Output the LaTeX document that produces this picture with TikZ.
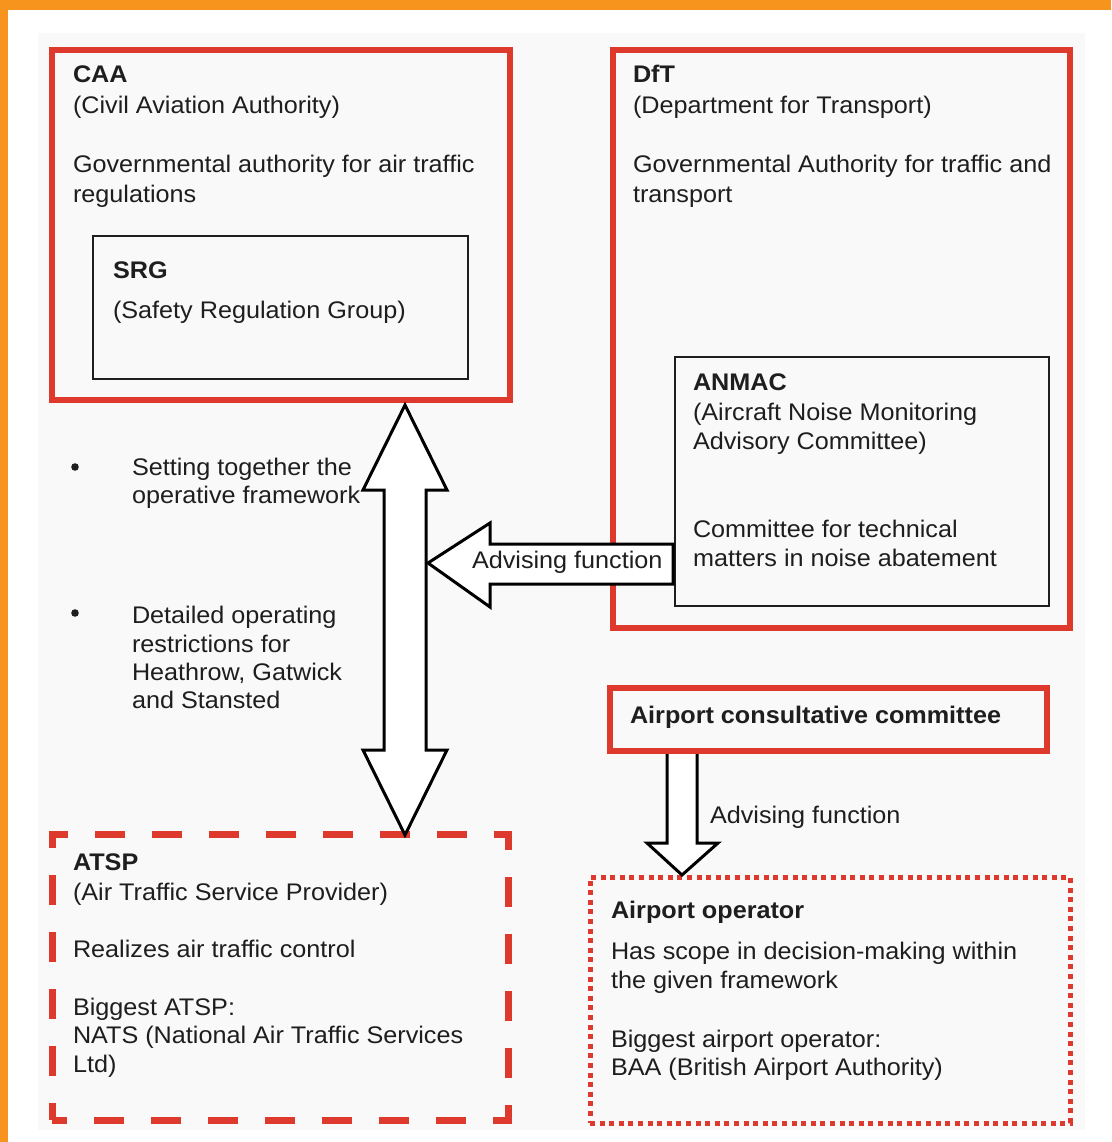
\documentclass[tikz,border=0pt]{standalone}
\usepackage{fontspec}
\setmainfont{Liberation Sans}[FakeStretch=1.05]
\definecolor{orng}{RGB}{247,148,29}
\definecolor{redl}{RGB}{221,57,45}
\definecolor{txtc}{RGB}{30,30,30}
\definecolor{bgc}{RGB}{249,249,249}
\begin{document}
\begin{tikzpicture}[x=1pt,y=-1pt,
  txt/.style={anchor=base west, inner sep=0pt, outer sep=0pt, text=txtc, font=\fontsize{24}{29}\selectfont},
  btxt/.style={txt, font=\fontsize{24}{29}\selectfont\bfseries},
  bx/.style={draw, inner sep=0pt, outer sep=0pt},
  redbox/.style={bx, draw=redl, line width=6pt},
  blackbox/.style={bx, draw=txtc, line width=2pt},
  dashbox/.style={bx, draw=redl, line width=7pt, dash pattern=on 30pt off 27pt, dash phase=15pt},
  dotbox/.style={bx, draw=redl, line width=5pt, dash pattern=on 5pt off 4.6pt},
  blockarrow/.style={draw=black, fill=white, line width=3pt, line join=miter},
]
\useasboundingbox (0,0) rectangle (1111,1142);
\fill[white] (0,0) rectangle (1111,1142);
\fill[bgc] (38,33) rectangle (1085,1130);
\fill[orng] (0,0) rectangle (1111,10);
\fill[orng] (0,0) rectangle (8,1142);

% boxes
\node[redbox, minimum width=458.5pt, minimum height=350pt] (caa) at (280.75,225) {};
\node[blackbox, minimum width=375pt, minimum height=143pt] (srg) at (280.5,307.5) {};
\node[redbox, minimum width=457.5pt, minimum height=578pt] (dft) at (841.25,339) {};
\node[blackbox, minimum width=374pt, minimum height=249pt] (anmac) at (862,481.5) {};
\node[dashbox, minimum width=456pt, minimum height=286pt] (atsp) at (280,977) {};
\node[dotbox, minimum width=480pt, minimum height=246pt] (aop) at (830,1000) {};

% double arrow CAA <-> ATSP
\draw[blockarrow] (405,405) -- (447,490) -- (426,490) -- (426,750) -- (447,750)
  -- (405,835) -- (363,750) -- (384,750) -- (384,490) -- (363,490) -- cycle;
% advising arrow ANMAC -> double arrow
\draw[blockarrow] (428,563) -- (490,523) -- (490,544) -- (673,544) -- (673,584)
  -- (490,584) -- (490,607) -- cycle;
% down arrow ACC -> airport operator
\draw[blockarrow] (667,751) -- (667,843) -- (647,843) -- (682,875) -- (718,843)
  -- (697,843) -- (697,751) -- cycle;

\node[redbox, fill=bgc, minimum width=437pt, minimum height=63pt] (acc) at (828.5,719.5) {};

% CAA
\node[btxt] (caaT1) at (73,83) {CAA};
\node[txt] (caaT2) at (73,114) {(Civil Aviation Authority)};
\node[txt] (caaT3) at (73,173) {Governmental authority for air traffic};
\node[txt] (caaT4) at (73,202) {regulations};
% SRG
\node[btxt] (srgT1) at (113,278) {SRG};
\node[txt] (srgT2) at (113,318) {(Safety Regulation Group)};
% DfT
\node[btxt] (dftT1) at (633,83) {DfT};
\node[txt] (dftT2) at (633,114) {(Department for Transport)};
\node[txt] (dftT3) at (633,173) {Governmental Authority for traffic and};
\node[txt] (dftT4) at (633,202) {transport};
% ANMAC
\node[btxt] (anT1) at (693,390) {ANMAC};
\node[txt] (anT2) at (693,420) {(Aircraft Noise Monitoring};
\node[txt] (anT3) at (693,449) {Advisory Committee)};
\node[txt] (anT4) at (693,537) {Committee for technical};
\node[txt] (anT5) at (693,566) {matters in noise abatement};
% bullets
\fill[txtc] (75,467) circle (3.8);
\node[txt] (b1a) at (132,475) {Setting together the};
\node[txt] (b1b) at (132,503) {operative framework};
\fill[txtc] (75,613) circle (3.8);
\node[txt] (b2a) at (132,623) {Detailed operating};
\node[txt] (b2b) at (132,652) {restrictions for};
\node[txt] (b2c) at (132,680) {Heathrow, Gatwick};
\node[txt] (b2d) at (132,708) {and Stansted};
% arrow labels
\node[txt] (adv1) at (472,568) {Advising function};
\node[btxt] (accT) at (630,723) {Airport consultative committee};
\node[txt] (adv2) at (710,823) {Advising function};
% ATSP
\node[btxt] (atT1) at (73,870) {ATSP};
\node[txt] (atT2) at (73,900) {(Air Traffic Service Provider)};
\node[txt] (atT3) at (73,957) {Realizes air traffic control};
\node[txt] (atT4) at (73,1015) {Biggest ATSP:};
\node[txt] (atT5) at (73,1043) {NATS (National Air Traffic Services};
\node[txt] (atT6) at (73,1072) {Ltd)};
% Airport operator
\node[btxt] (aoT1) at (611,918) {Airport operator};
\node[txt] (aoT2) at (611,959) {Has scope in decision-making within};
\node[txt] (aoT3) at (611,988) {the given framework};
\node[txt] (aoT4) at (611,1047) {Biggest airport operator:};
\node[txt] (aoT5) at (611,1075) {BAA (British Airport Authority)};
\end{tikzpicture}
\end{document}
